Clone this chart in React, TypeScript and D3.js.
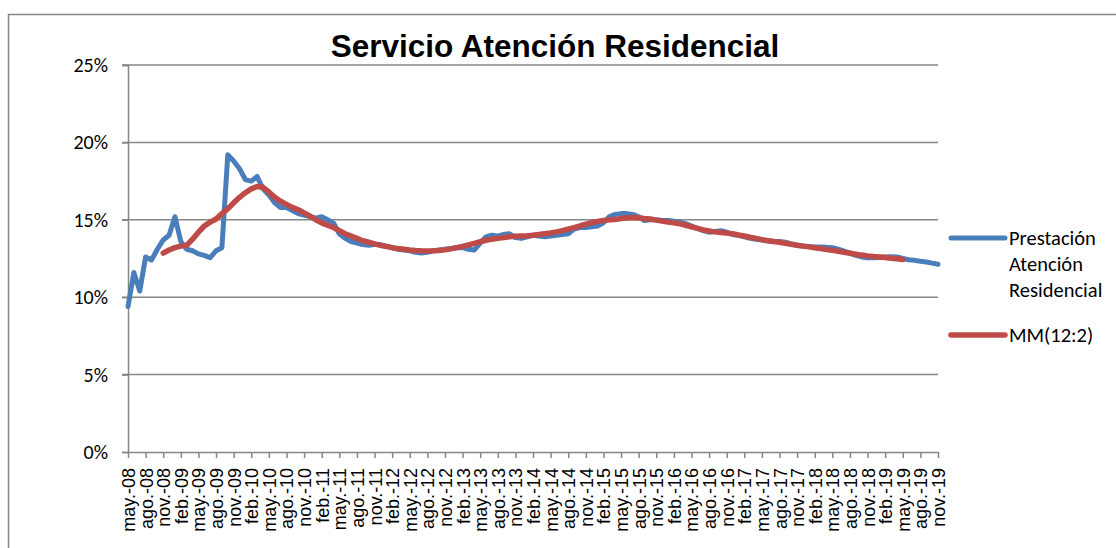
import * as d3 from "d3";
import React, { useEffect, useRef } from "react";

// monthly categories may-08 .. nov-19
const monthNames = ["ene.", "feb.", "mar.", "abr.", "may.", "jun.", "jul.", "ago.", "sep.", "oct.", "nov.", "dic."];
const years = ["08", "09", "10", "11", "12", "13", "14", "15", "16", "17", "18", "19"];

const categories: string[] = [];
years.forEach((yy, i) => {
  monthNames.forEach((mm, j) => {
    if (i === 0 && j < 4) return;
    if (i === years.length - 1 && j > 10) return;
    categories.push(`${mm}-${yy}`);
  });
});

// labelled every 3 months
const tickLabels = [
  "may.-08", "ago.-08", "nov.-08", "feb.-09", "may.-09", "ago.-09", "nov.-09", "feb.-10", "may.-10", "ago.-10",
  "nov.-10", "feb.-11", "may.-11", "ago.-11", "nov.-11", "feb.-12", "may.-12", "ago.-12", "nov.-12", "feb.-13",
  "may.-13", "ago.-13", "nov.-13", "feb.-14", "may.-14", "ago.-14", "nov.-14", "feb.-15", "may.-15", "ago.-15",
  "nov.-15", "feb.-16", "may.-16", "ago.-16", "nov.-16", "feb.-17", "may.-17", "ago.-17", "nov.-17", "feb.-18",
  "may.-18", "ago.-18", "nov.-18", "feb.-19", "may.-19", "ago.-19", "nov.-19",
];

const yTicks = [0, 0.05, 0.1, 0.15, 0.2, 0.25];

// Prestación Atención Residencial (%)
const prestacion = [
  9.4, 11.6, 10.4, 12.6, 12.4, 13.1, 13.7, 14.0, 15.2, 13.6,
  13.1, 13.0, 12.8, 12.7, 12.55, 13.0, 13.2, 19.2, 18.8, 18.3,
  17.6, 17.5, 17.8, 17.0, 16.6, 16.1, 15.8, 15.8, 15.6, 15.4,
  15.3, 15.2, 15.1, 15.2, 15.0, 14.8, 14.1, 13.8, 13.6, 13.5,
  13.4, 13.35, 13.4, 13.4, 13.3, 13.2, 13.1, 13.05, 13.0, 12.9,
  12.86, 12.9, 13.0, 13.05, 13.1, 13.15, 13.2, 13.2, 13.1, 13.05,
  13.5, 13.9, 14.0, 13.95, 14.05, 14.1, 13.85, 13.8, 13.9, 14.0,
  13.95, 13.9, 13.95, 14.0, 14.05, 14.1, 14.4, 14.5, 14.5, 14.55,
  14.6, 14.8, 15.2, 15.35, 15.4, 15.4, 15.35, 15.2, 14.95, 15.0,
  15.0, 14.95, 14.95, 14.9, 14.85, 14.75, 14.6, 14.45, 14.3, 14.2,
  14.25, 14.3, 14.2, 14.05, 14.0, 13.9, 13.8, 13.75, 13.7, 13.65,
  13.6, 13.6, 13.55, 13.45, 13.35, 13.3, 13.28, 13.25, 13.25, 13.22,
  13.2, 13.1, 12.98, 12.85, 12.7, 12.6, 12.55, 12.55, 12.56, 12.6,
  12.62, 12.6, 12.5, 12.42, 12.38, 12.32, 12.27, 12.2, 12.13,
];

// MM(12:2) centered moving average (%), empty at both ends
const mm = [
  null, null, null, null, null, null,
  12.85, 13.05, 13.2, 13.3, 13.35, 13.75, 14.2, 14.6, 14.85, 15.05,
  15.4, 15.7, 16.1, 16.45, 16.75, 17.0, 17.15, 17.1, 16.8, 16.45,
  16.2, 16.0, 15.8, 15.65, 15.45, 15.25, 15.0, 14.8, 14.65, 14.5,
  14.3, 14.1, 13.95, 13.8, 13.65, 13.55, 13.45, 13.35, 13.28, 13.2,
  13.14, 13.1, 13.05, 13.02, 13.0, 12.99, 13.0, 13.02, 13.06, 13.12,
  13.2, 13.28, 13.38, 13.48, 13.58, 13.68, 13.75, 13.8, 13.85, 13.9,
  13.93, 13.95, 13.97, 14.0, 14.05, 14.1, 14.15, 14.22, 14.3, 14.4,
  14.5, 14.6, 14.72, 14.82, 14.9, 14.96, 15.0, 15.02, 15.08, 15.12,
  15.15, 15.12, 15.08, 15.05, 14.98, 14.92, 14.85, 14.8, 14.75, 14.65,
  14.55, 14.45, 14.35, 14.28, 14.22, 14.18, 14.14, 14.1, 14.02, 13.95,
  13.87, 13.8, 13.72, 13.65, 13.6, 13.55, 13.48, 13.42, 13.36, 13.3,
  13.25, 13.2, 13.14, 13.08, 13.03, 12.97, 12.9, 12.84, 12.78, 12.72,
  12.67, 12.63, 12.6, 12.56, 12.52, 12.48, 12.43,
  null, null, null, null, null, null,
];

const blue = "#4A7EBB";
const red = "#BE4B48";
const gray = "#868686";
const sideFont = "Carlito, Calibri, Lato, sans-serif";

function drawChart(el: SVGSVGElement) {
  const svg = d3.select(el);
  svg.selectAll("*").remove();

  const x = d3.scalePoint<string>().domain(categories).range([128, 938]);
  const y = d3.scaleLinear().domain([0, 0.25]).range([452, 65]);

  // chart frame
  svg.append("rect")
    .attr("x", 8.5).attr("y", 14.5).attr("width", 1200).attr("height", 600)
    .attr("fill", "white").attr("stroke", gray).attr("stroke-width", 1.5);

  // title
  svg.append("text")
    .attr("x", 555).attr("y", 57)
    .attr("text-anchor", "middle")
    .style("font-family", "'Liberation Sans', Arial, sans-serif")
    .style("font-weight", "bold").style("font-size", "31.5px")
    .text("Servicio Atención Residencial");

  // gridlines
  svg.append("g").selectAll("line")
    .data(yTicks.slice(1))
    .join("line")
    .attr("x1", 122).attr("x2", 938)
    .attr("y1", d => y(d)).attr("y2", d => y(d))
    .attr("stroke", gray).attr("stroke-width", 1.5);

  // y axis
  const yAxis = svg.append("g").attr("transform", "translate(128,0)")
    .call(d3.axisLeft(y).tickValues(yTicks).tickFormat(d3.format(".0%")).tickSize(6).tickPadding(14));
  yAxis.select(".domain").attr("stroke", gray).attr("stroke-width", 1.5);
  yAxis.selectAll(".tick line").attr("stroke", gray).attr("stroke-width", 1.5);
  yAxis.selectAll(".tick text")
    .attr("fill", "black")
    .style("font-family", sideFont).style("font-size", "20px");

  // x axis
  const xAxis = svg.append("g").attr("transform", "translate(0,452)")
    .call(d3.axisBottom(x).tickValues(tickLabels).tickSize(6).tickSizeOuter(0));
  xAxis.select(".domain").attr("stroke", gray).attr("stroke-width", 1.5);
  xAxis.selectAll(".tick line").attr("stroke", gray).attr("stroke-width", 1.5);
  xAxis.selectAll(".tick text")
    .attr("fill", "black")
    .attr("transform", "rotate(-90)")
    .attr("text-anchor", "end")
    .attr("x", -16).attr("y", 0).attr("dy", "0.36em")
    .style("font-family", "'Liberation Sans', Arial, sans-serif")
    .style("font-size", "18px");

  // lines
  const line = d3.line<number | null>()
    .defined(d => d !== null)
    .x((_, i) => x(categories[i]) as number)
    .y(d => y((d as number) / 100));

  svg.append("path")
    .datum(prestacion)
    .attr("d", line)
    .attr("fill", "none").attr("stroke", blue).attr("stroke-width", 5)
    .attr("stroke-linejoin", "round").attr("stroke-linecap", "round");

  svg.append("path")
    .datum(mm)
    .attr("d", line)
    .attr("fill", "none").attr("stroke", red).attr("stroke-width", 5.5)
    .attr("stroke-linejoin", "round").attr("stroke-linecap", "round");

  // legend
  const legend = svg.append("g");
  legend.append("line").attr("x1", 951).attr("x2", 1005).attr("y1", 238).attr("y2", 238)
    .attr("stroke", blue).attr("stroke-width", 5).attr("stroke-linecap", "round");
  legend.append("line").attr("x1", 951).attr("x2", 1005).attr("y1", 335).attr("y2", 335)
    .attr("stroke", red).attr("stroke-width", 5.5).attr("stroke-linecap", "round");
  const legendText = [
    { t: "Prestación", y: 238 },
    { t: "Atención", y: 264 },
    { t: "Residencial", y: 290 },
    { t: "MM(12:2)", y: 335 },
  ];
  legend.selectAll("text")
    .data(legendText)
    .join("text")
    .attr("x", 1009).attr("y", d => d.y).attr("dy", "0.35em")
    .style("font-family", sideFont).style("font-size", "20.5px")
    .text(d => d.t);
}

export default function App() {
  const ref = useRef<SVGSVGElement>(null);

  useEffect(() => {
    document.body.style.margin = "0";
    if (ref.current) drawChart(ref.current);
  }, []);

  return <svg ref={ref} width={1116} height={548} style={{ display: "block", background: "white" }} />;
}
